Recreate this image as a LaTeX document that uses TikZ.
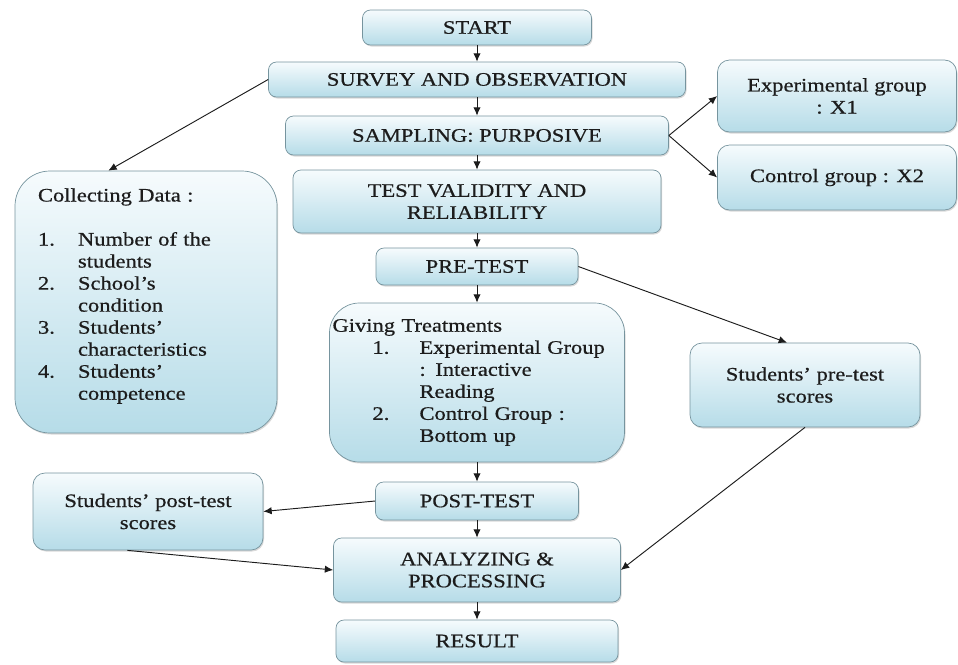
\documentclass[tikz,border=0pt]{standalone}
\usepackage{fontspec}
\setmainfont{Liberation Serif}[FakeStretch=1.18,FakeBold=0.6]
\usepackage{xcolor}
\usetikzlibrary{arrows.meta,shadows}

\newlength\px
\setlength\px{0.03cm}
\definecolor{boxtop}{RGB}{246,251,253}
\definecolor{boxbot}{RGB}{182,220,232}
\definecolor{boxline}{RGB}{118,148,158}
\definecolor{ink}{RGB}{28,28,28}

\begin{document}
\begin{tikzpicture}[x=1\px, y=1\px,
        box/.style={draw=boxline, line width=0.6pt, top color=boxtop, bottom color=boxbot,
            rounded corners=8\px, text=ink, align=center, inner sep=0pt,
            drop shadow={shadow xshift=0.3mm, shadow yshift=-0.45mm, opacity=0.3},
            font=\fontsize{16.3}{18.8}\selectfont},
        listbox/.style={box, align=left},
        arr/.style={-{Latex[length=2.5mm,width=2.2mm]}, line width=0.8pt, draw=ink}]
        \useasboundingbox (0,0) rectangle (958,-664);

        % main column
        \node[box, minimum width=229\px, minimum height=35\px] (start) at (477,-27.5) {START};
        \node[box, minimum width=417\px, minimum height=35\px] (survey) at (477,-79.5) {SURVEY AND OBSERVATION};
        \node[box, minimum width=383\px, minimum height=39\px] (sampling) at (477,-135.5) {SAMPLING: PURPOSIVE};
        \node[box, minimum width=368\px, minimum height=63\px] (validity) at (477,-201.5) {TEST VALIDITY AND\\RELIABILITY};
        \node[box, minimum width=202\px, minimum height=37\px] (pretest) at (477,-266.5) {PRE-TEST};
        \node[listbox, rounded corners=30\px, text width=289\px, inner xsep=3\px, minimum height=159\px] (treat) at (477,-382.5)
            {Giving Treatments\\
            \hspace*{40\px}\makebox[47\px][l]{1.}Experimental Group\\
            \hspace*{87\px}: Interactive\\
            \hspace*{87\px}Reading\\
            \hspace*{40\px}\makebox[47\px][l]{2.}Control Group :\\
            \hspace*{87\px}Bottom up};
        \node[box, minimum width=203\px, minimum height=38\px] (posttest) at (477,-501) {POST-TEST};
        \node[box, minimum width=287\px, minimum height=64\px] (analyze) at (477,-570) {ANALYZING \&\\PROCESSING};
        \node[box, minimum width=282\px, minimum height=42\px] (result) at (477,-641) {RESULT};

        % side boxes
        \node[listbox, rounded corners=35\px, text width=216\px, inner xsep=23\px, minimum height=262\px] (collect) at (146,-302)
            {Collecting Data :\\[22\px]
            \makebox[40\px][l]{1.}Number of the\\
            \hspace*{40\px}students\\
            \makebox[40\px][l]{2.}School's\\
            \hspace*{40\px}condition\\
            \makebox[40\px][l]{3.}Students'\\
            \hspace*{40\px}characteristics\\
            \makebox[40\px][l]{4.}Students'\\
            \hspace*{40\px}competence\rule[-16\px]{0pt}{0pt}};
        \node[box, rounded corners=12\px, minimum width=239\px, minimum height=72\px] (expgrp) at (837,-96) {Experimental group\\: X1};
        \node[box, rounded corners=12\px, minimum width=239\px, minimum height=65\px] (ctrlgrp) at (837,-177.5) {Control group : X2};
        \node[box, rounded corners=12\px, minimum width=230\px, minimum height=84\px] (prescore) at (805,-385) {Students' pre-test\\scores};
        \node[box, rounded corners=12\px, minimum width=230\px, minimum height=77\px] (postscore) at (148,-511.5) {Students' post-test\\scores};

        \draw[arr] (start) -- (survey);
        \draw[arr] (survey) -- (sampling);
        \draw[arr] (sampling) -- (validity);
        \draw[arr] (validity) -- (pretest);
        \draw[arr] (pretest) -- (treat);
        \draw[arr] (treat) -- (posttest);
        \draw[arr] (posttest) -- (analyze);
        \draw[arr] (analyze) -- (result);

        \draw[arr] (survey.west) -- (collect.106);
        \draw[arr] (sampling.east) -- (expgrp.west);
        \draw[arr] (sampling.east) -- (ctrlgrp.west);
        \draw[arr] (pretest.east) -- (prescore.113);
        \draw[arr] (prescore.south) -- (analyze.east);
        \draw[arr] (posttest.west) -- (postscore.east);
        \draw[arr] (postscore.242) -- (analyze.west);

    \end{tikzpicture}
\end{document}
